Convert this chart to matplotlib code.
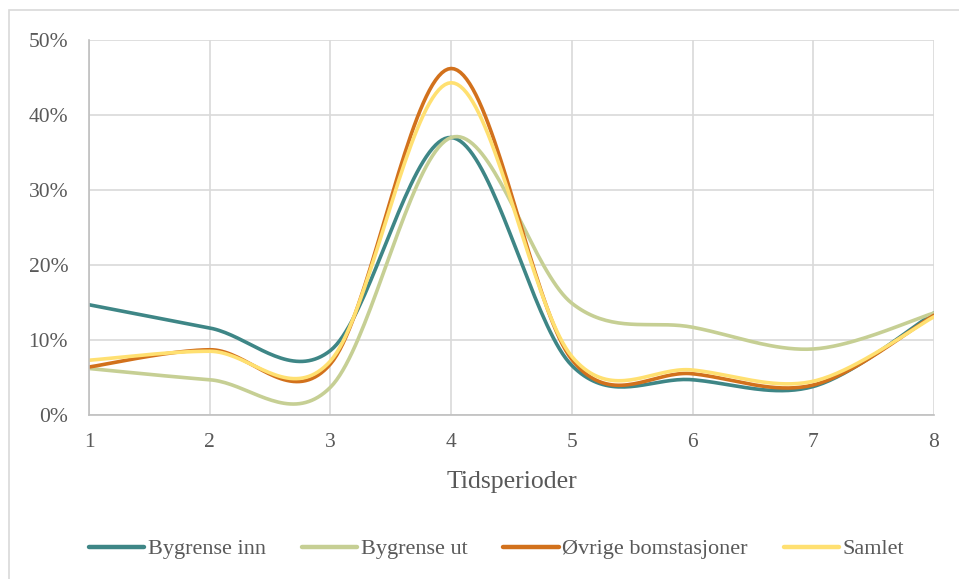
import numpy as np
import matplotlib
matplotlib.use("Agg")
import matplotlib.pyplot as plt
from matplotlib.patches import Rectangle
from matplotlib.ticker import FuncFormatter, MultipleLocator

# Andel per tidsperiode (prosent)
periods = [1, 2, 3, 4, 5, 6, 7, 8]
bygrense_inn = [14.7, 11.6, 8.6, 37.0, 6.6, 4.7, 3.8, 13.6]
bygrense_ut = [6.2, 4.7, 3.7, 37.0, 14.9, 11.7, 8.8, 13.6]
ovrige = [6.4, 8.7, 6.8, 46.2, 7.4, 5.5, 4.0, 13.3]
samlet = [7.3, 8.5, 7.2, 44.3, 7.8, 6.0, 4.5, 13.1]

series_names = ["Bygrense inn", "Bygrense ut", "Øvrige bomstasjoner", "Samlet"]
series_values = [bygrense_inn, bygrense_ut, ovrige, samlet]
colors = ["#3E8686", "#C6CF94", "#D2711C", "#FFE071"]


def smooth(xs, ys, n=40):
    """Cubic Bezier smoothing through every point (Catmull-Rom style tangents)."""
    xs = np.asarray(xs, float)
    ys = np.asarray(ys, float)
    px = np.concatenate([[xs[0]], xs, [xs[-1]]])
    py = np.concatenate([[ys[0]], ys, [ys[-1]]])
    out_x, out_y = [], []
    t = np.linspace(0, 1, n)
    for i in range(1, len(px) - 2):
        p0 = np.array([px[i], py[i]])
        p3 = np.array([px[i + 1], py[i + 1]])
        c1 = p0 + (np.array([px[i + 1], py[i + 1]]) - np.array([px[i - 1], py[i - 1]])) / 6
        c2 = p3 - (np.array([px[i + 2], py[i + 2]]) - p0) / 6
        b = ((1 - t) ** 3)[:, None] * p0 + (3 * (1 - t) ** 2 * t)[:, None] * c1 \
            + (3 * (1 - t) * t ** 2)[:, None] * c2 + (t ** 3)[:, None] * p3
        if i > 1:
            b = b[1:]
        out_x.extend(b[:, 0])
        out_y.extend(b[:, 1])
    return np.array(out_x), np.array(out_y)


plt.rcParams["font.family"] = ["Liberation Serif", "DejaVu Serif"]
text_color = "#595959"
grid_color = "#D9D9D9"

fig = plt.figure(figsize=(9.59, 5.79), dpi=100)
W, H = 959, 579
ax = fig.add_axes([89 / W, 1 - 415 / H, (934 - 89) / W, (415 - 40) / H])

# chart frame
fig.patches.append(Rectangle((9 / W, -0.05), 1.1, 1 - 10 / H + 0.05,
                             transform=fig.transFigure, fill=False,
                             edgecolor="#D9D9D9", linewidth=1.2, zorder=0))

for name, vals, c in zip(series_names, series_values, colors):
    sx, sy = smooth(periods, vals)
    ax.plot(sx, sy, color=c, linewidth=2.6, solid_capstyle="round", label=name)

ax.set_xlim(1, 8)
ax.set_ylim(0, 50)
ax.xaxis.set_major_locator(MultipleLocator(1))
ax.yaxis.set_major_locator(MultipleLocator(10))
ax.yaxis.set_major_formatter(FuncFormatter(lambda v, p: f"{v:.0f}%"))
ax.grid(True, color=grid_color, linewidth=1.2)
ax.set_axisbelow(True)
for s in ax.spines.values():
    s.set_visible(False)
ax.spines["left"].set_visible(True)
ax.spines["bottom"].set_visible(True)
ax.spines["left"].set_color("#BFBFBF")
ax.spines["bottom"].set_color("#BFBFBF")
ax.spines["left"].set_linewidth(1.2)
ax.spines["bottom"].set_linewidth(1.2)
ax.tick_params(length=0, labelsize=15.5, colors=text_color)
ax.tick_params(axis="y", pad=15)
ax.tick_params(axis="x", pad=13)

ax.set_xlabel("Tidsperioder", fontsize=18.5, color=text_color, labelpad=14)

leg = fig.legend(loc="center", bbox_to_anchor=(0.5 + 17 / W, 1 - 549 / H), ncol=4,
                 frameon=False, fontsize=16, handlelength=2.5,
                 handletextpad=0.15, columnspacing=1.62)
for t in leg.get_texts():
    t.set_color(text_color)
for l in leg.get_lines():
    l.set_linewidth(3.2)

fig.savefig("out.png", dpi=100, facecolor="white")
